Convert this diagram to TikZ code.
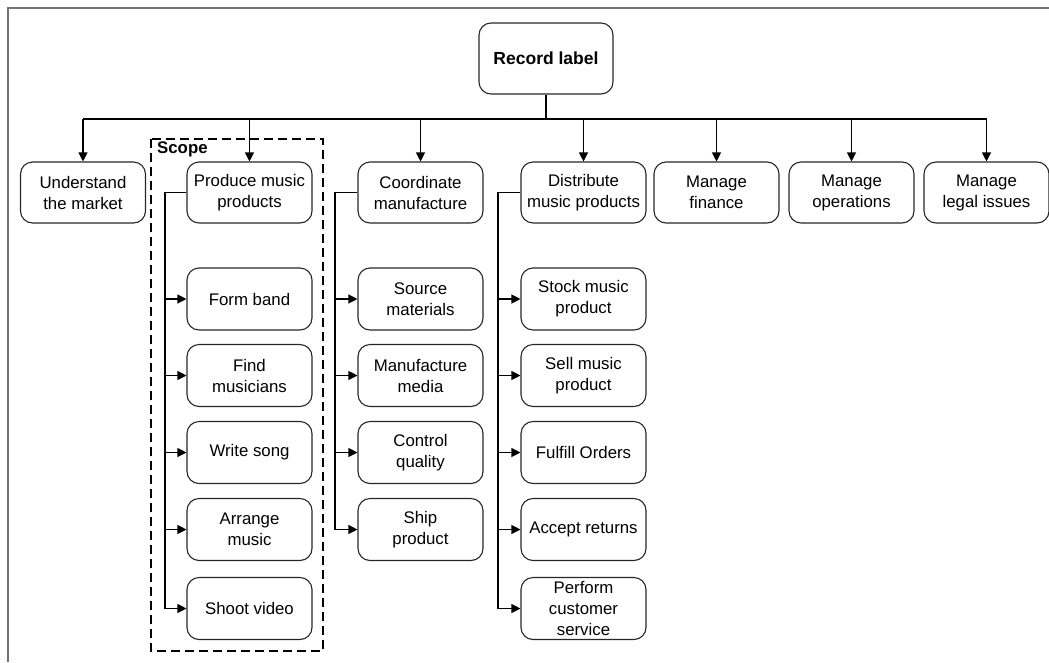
\documentclass[tikz,border=0pt]{standalone}
\usepackage{fontspec}
\setmainfont{Liberation Sans}
\usetikzlibrary{arrows.meta}
\begin{document}
\begin{tikzpicture}[x=1pt,y=-1pt,
  every node/.style={font=\fontsize{16.8}{21}\selectfont},
  task/.style={draw=black!85, line width=1.1pt, rounded corners=12pt,
    minimum width=125pt, minimum height=61pt, align=center, inner sep=0pt},
  subtask/.style={task, minimum height=62pt},
  link/.style={line width=1.1pt, draw=black},
  arrowlink/.style={link, -{Triangle[length=9pt,width=9pt]}},
  frameline/.style={draw=black!55, line width=2pt}]
\useasboundingbox (0,0) rectangle (1049,662);

% page frame (top and left edges)
\coordinate (fl) at (8,662);
\coordinate (fc) at (8,8);
\coordinate (fr) at (1049,8);
\draw[frameline] (fl) -- (fc) -- (fr);

% root
\node[task, minimum width=134pt, minimum height=71pt, font=\fontsize{17.5}{21}\selectfont\bfseries] (rec) at (546,58.5) {Record label};

% first level
\node[task] (und)  at (83,192.5)  {Understand\\the market};
\node[task] (prod) at (249.5,192.5) {Produce music\\products};
\node[task] (coord) at (420.5,192.5) {Coordinate\\manufacture};
\node[task] (dist) at (583.5,192.5) {Distribute\\music products};
\node[task] (fin)  at (716.5,192.5) {Manage\\finance};
\node[task] (ops)  at (851.5,192.5) {Manage\\operations};
\node[task] (legal) at (986.5,192.5) {Manage\\legal issues};

% bus from the root to the first level
\coordinate (bus) at (546,119);
\draw[link] (rec.south) -- (bus);
\draw[link] (und.north |- bus) -- (legal.north |- bus);
\foreach \n in {und,prod,coord,dist,fin,ops,legal}
  \draw[arrowlink] (\n.north |- bus) -- (\n.north);

% produce music products
\node[subtask] (p1) at (249.5,299)   {Form band};
\node[subtask] (p2) at (249.5,375.5) {Find\\musicians};
\node[subtask] (p3) at (249.5,452.5) {Write song};
\node[subtask] (p4) at (249.5,529.5) {Arrange\\music};
\node[subtask] (p5) at (249.5,608.5) {Shoot video};
\coordinate (pb) at (165,192.5);
\draw[link] (prod.west) -- (pb) -- (pb |- p5.west);
\foreach \n in {p1,p2,p3,p4,p5}
  \draw[arrowlink] (pb |- \n.west) -- (\n.west);

% coordinate manufacture
\node[subtask] (c1) at (420.5,299)   {Source\\materials};
\node[subtask] (c2) at (420.5,375.5) {Manufacture\\media};
\node[subtask] (c3) at (420.5,452.5) {Control\\quality};
\node[subtask] (c4) at (420.5,529.5) {Ship\\product};
\coordinate (cb) at (335,192.5);
\draw[link] (coord.west) -- (cb) -- (cb |- c4.west);
\foreach \n in {c1,c2,c3,c4}
  \draw[arrowlink] (cb |- \n.west) -- (\n.west);

% distribute music products
\node[subtask] (d1) at (583.5,299)   {Stock music\\product};
\node[subtask] (d2) at (583.5,375.5) {Sell music\\product};
\node[subtask] (d3) at (583.5,452.5) {Fulfill Orders};
\node[subtask] (d4) at (583.5,529.5) {Accept returns};
\node[subtask] (d5) at (583.5,608.5) {Perform\\customer\\service};
\coordinate (db) at (498,192.5);
\draw[link] (dist.west) -- (db) -- (db |- d5.west);
\foreach \n in {d1,d2,d3,d4,d5}
  \draw[arrowlink] (db |- \n.west) -- (\n.west);

% scope boundary
\coordinate (s1) at (151,139);
\coordinate (s2) at (323,651);
\draw[line width=2pt, dash pattern=on 9pt off 5pt] (s1) rectangle (s2);
\node[anchor=north west, inner sep=0pt, font=\fontsize{16.8}{20}\selectfont\bfseries] (scope) at (157,142) {Scope};
\end{tikzpicture}
\end{document}
